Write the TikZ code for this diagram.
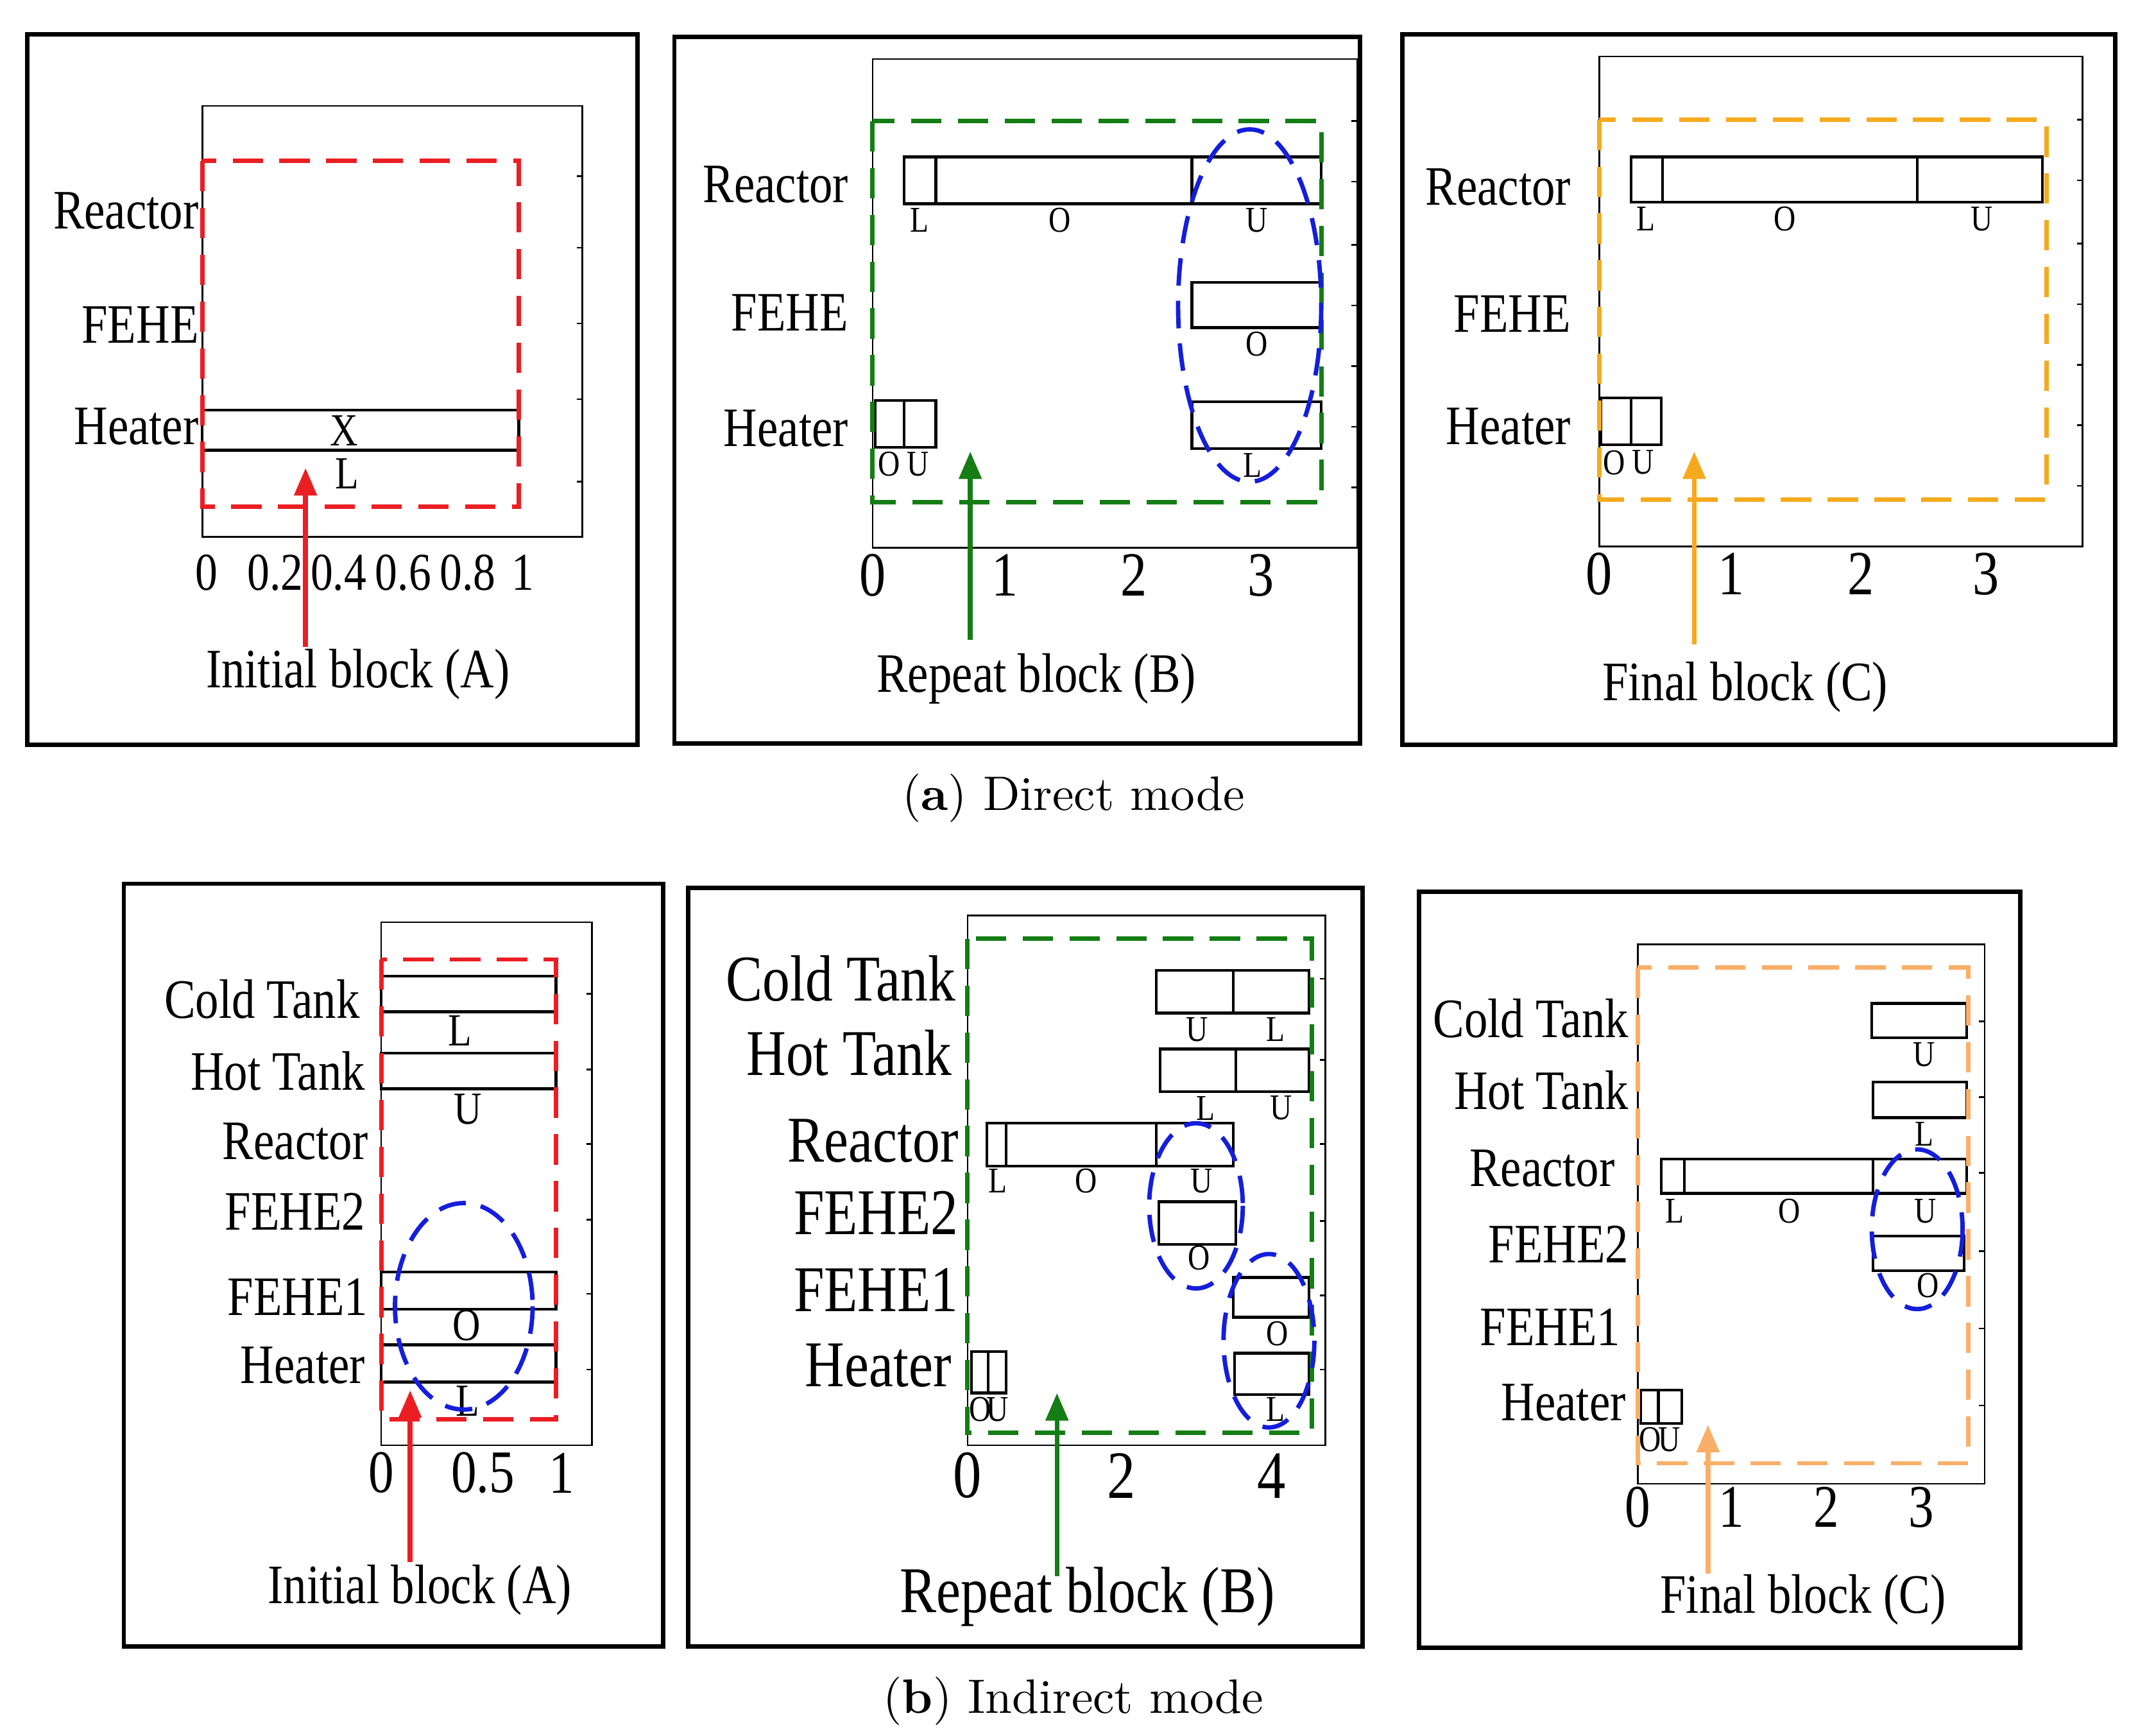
\documentclass[tikz,border=0pt]{standalone}
\usepackage{fontspec}
\newfontfamily\lab{Liberation Serif}[FakeStretch=0.84]
\usetikzlibrary{arrows.meta}
\definecolor{dred}{RGB}{235,30,35}
\definecolor{dgreen}{RGB}{20,125,20}
\definecolor{dorange}{RGB}{245,170,30}
\definecolor{lorange}{RGB}{250,175,105}
\definecolor{dblue}{RGB}{20,30,220}
\tikzset{
 outer/.style={line width=0.32mm},
 axes/.style={line width=0.12mm},
 bar/.style={line width=0.2mm},
 dbox/.style={line width=0.32mm,dash pattern=on 2.2mm off 1.2mm},
 ell/.style={dblue,line width=0.32mm,dash pattern=on 2mm off 1.1mm},
 yl/.style={anchor=east,inner sep=0pt,font=\lab\fontsize{11.5}{12}\selectfont},
 ylb/.style={anchor=east,inner sep=0pt,font=\lab\fontsize{13.5}{14}\selectfont},
 sl/.style={inner sep=0pt,font=\lab\fontsize{7.5}{8}\selectfont},
 tl/.style={inner sep=0pt,font=\lab\fontsize{11}{12}\selectfont},
 tlb/.style={inner sep=0pt,font=\lab\fontsize{13}{14}\selectfont},
 captxt/.style={inner sep=0pt,font=\lab\fontsize{11.5}{12}\selectfont},
 figcap/.style={inner sep=0pt,font=\fontsize{10}{12}\selectfont},
 arr/.style={line width=0.35mm,-{Triangle[length=2mm,width=1.6mm]}},
}
\begin{document}
\begin{tikzpicture}[x=0.1mm,y=-0.1mm]
\useasboundingbox (0,0) rectangle (1560,1261);
% ================= a1
\draw[outer] (20,25) rectangle (463,541);
\draw[axes] (147,77) rectangle (423,390);
\foreach \y in {128,180,235,290,350} \draw[axes] (423,\y) -- ++(-4,0);
\draw[bar] (147,298) rectangle (377,327);
\node[sl,font=\lab\fontsize{9.5}{10}\selectfont] (a1x) at (250,313) {X};
\node[sl,font=\lab\fontsize{9.5}{10}\selectfont] (a1l) at (252,344) {L};
\draw[dbox,dred] (147,117) rectangle (377,368);
\node[yl] (a1r) at (145,153) {Reactor};
\node[yl] (a1f) at (145,236) {FEHE};
\node[yl] (a1h) at (145,310) {Heater};
\foreach \x/\t in {150/0,200/0.2,246/0.4,293/0.6,340/0.8,380/1} \node[tl] at (\x,416) {\t};
\node[captxt] (a1c) at (260,490) {Initial block (A)};
\coordinate (a1s) at (222,470); \coordinate (a1e) at (222,340);
\draw[arr,dred] (a1s) -- (a1e);
% ================= a2
\draw[outer] (490,27) rectangle (988,540);
\draw[axes] (634,43) rectangle (986,398);
\foreach \y in {88,132,178,222,266,310,354} \draw[axes] (986,\y) -- ++(-4,0);
\draw[bar] (657,114) rectangle (960,148); \draw[bar] (680,114)--(680,148) (866,114)--(866,148);
\node[sl] at (668,160) {L}; \node[sl] at (770,160) {O}; \node[sl] at (913,160) {U};
\draw[bar] (866,205) rectangle (960,238); \node[sl] at (913,250) {O};
\draw[bar] (636,291) rectangle (680,325); \draw[bar] (657,291)--(657,325);
\node[sl] at (646,337) {O}; \node[sl] at (667,337) {U};
\draw[bar] (866,292) rectangle (960,326); \node[sl] at (910,338) {L};
\draw[dbox,dgreen] (634,88) rectangle (960,365);
\draw[ell] (908,222) ellipse (52 and 128);
\node[yl] at (617,134) {Reactor};
\node[yl] at (617,227) {FEHE};
\node[yl] at (617,311) {Heater};
\foreach \x/\t in {634/0,730/1,824/2,916/3} \node[tlb] at (\x,418) {\t};
\node[captxt] (a2c) at (753,493) {Repeat block (B)};
\coordinate (a2s) at (705,465); \coordinate (a2e) at (705,328);
\draw[arr,dgreen] (a2s) -- (a2e);
% ================= a3
\draw[outer] (1019,25) rectangle (1537,541);
\draw[axes] (1162,41) rectangle (1513,397);
\foreach \y in {87,131,177,221,265,309,353} \draw[axes] (1513,\y) -- ++(-4,0);
\draw[bar] (1185,114) rectangle (1484,147); \draw[bar] (1208,114)--(1208,147) (1393,114)--(1393,147);
\node[sl] at (1196,159) {L}; \node[sl] at (1297,159) {O}; \node[sl] at (1440,159) {U};
\draw[bar] (1163,289) rectangle (1207,323); \draw[bar] (1185,289)--(1185,323);
\node[sl] at (1173,336) {O}; \node[sl] at (1194,336) {U};
\draw[dbox,dorange] (1162,87) rectangle (1487,363);
\node[yl] at (1142,136) {Reactor};
\node[yl] at (1142,228) {FEHE};
\node[yl] at (1142,310) {Heater};
\foreach \x/\t in {1162/0,1258/1,1352/2,1443/3} \node[tlb] at (\x,417) {\t};
\node[captxt] (a3c) at (1268,499) {Final block (C)};
\coordinate (a3s) at (1231,468); \coordinate (a3e) at (1231,328);
\draw[arr,dorange] (a3s) -- (a3e);
\node[figcap] at (780,580) {(\textbf{a}) Direct mode};
% ================= b1
\draw[outer] (90,642) rectangle (482,1196);
\draw[axes] (277,670) rectangle (430,1050);
\foreach \y in {722,777,831,886,940,995} \draw[axes] (430,\y) -- ++(-4,0);
\draw[bar] (277,709) rectangle (404,735); \node[sl,font=\lab\fontsize{9.5}{10}\selectfont] at (334,749) {L};
\draw[bar] (277,765) rectangle (404,791); \node[sl,font=\lab\fontsize{9.5}{10}\selectfont] at (340,806) {U};
\draw[bar] (277,924) rectangle (404,951); \node[sl,font=\lab\fontsize{9.5}{10}\selectfont] at (339,963) {O};
\draw[bar] (277,977) rectangle (404,1004); \node[sl,font=\lab\fontsize{9.5}{10}\selectfont] at (340,1018) {L};
\draw[dbox,dred] (277,697) rectangle (404,1031);
\draw[ell] (337,949) ellipse (50 and 75);
\node[yl] at (262,726) {Cold Tank};
\node[yl] at (266,778) {Hot Tank};
\node[yl] at (268,829) {Reactor};
\node[yl] at (266,880) {FEHE2};
\node[yl] at (268,942) {FEHE1};
\node[yl] at (266,992) {Heater};
\foreach \x/\t in {277/0,351/0.5,408/1} \node[tlb,font=\lab\fontsize{12.5}{13}\selectfont] at (\x,1070) {\t};
\node[captxt] (b1c) at (305,1155) {Initial block (A)};
\coordinate (b1s) at (298,1135); \coordinate (b1e) at (298,1010);
\draw[arr,dred] (b1s) -- (b1e);
% ================= b2
\draw[outer] (500,645) rectangle (990,1196);
\draw[axes] (703,665) rectangle (963,1050);
\foreach \y in {711,770,831,887,941,995} \draw[axes] (963,\y) -- ++(-4,0);
\draw[bar] (840,705) rectangle (951,736); \draw[bar] (896,705)--(896,736);
\node[sl] at (870,748) {U}; \node[sl] at (927,748) {L};
\draw[bar] (843,762) rectangle (951,793); \draw[bar] (898,762)--(898,793);
\node[sl] at (876,805) {L}; \node[sl] at (931,805) {U};
\draw[bar] (717,816) rectangle (896,847); \draw[bar] (731,816)--(731,847) (840,816)--(840,847);
\node[sl] at (725,858) {L}; \node[sl] at (789,858) {O}; \node[sl] at (873,858) {U};
\draw[bar] (842,873) rectangle (898,904); \node[sl] at (871,914) {O};
\draw[bar] (896,928) rectangle (951,957); \node[sl] at (928,969) {O};
\draw[bar] (706,982) rectangle (731,1012); \draw[bar] (718,982)--(718,1012);
\node[sl] at (712,1024) {O}; \node[sl] at (725,1024) {U};
\draw[bar] (897,983) rectangle (951,1013); \node[sl] at (927,1024) {L};
\draw[dbox,dgreen] (703,682) rectangle (953,1041);
\draw[ell] (869,876) ellipse (34 and 60);
\draw[ell] (922,974) ellipse (33 and 63);
\node[ylb] at (695,711) {Cold Tank};
\node[ylb] at (692,765) {Hot Tank};
\node[ylb] at (697,829) {Reactor};
\node[ylb] at (697,881) {FEHE2};
\node[ylb] at (697,937) {FEHE1};
\node[ylb] at (692,992) {Heater};
\foreach \x/\t in {703/0,815/2,924/4} \node[tlb,font=\lab\fontsize{14}{15}\selectfont] at (\x,1072) {\t};
\node[captxt,font=\lab\fontsize{13.5}{14}\selectfont] (b2c) at (790,1160) {Repeat block (B)};
\coordinate (b2s) at (768,1145); \coordinate (b2e) at (768,1012);
\draw[arr,dgreen] (b2s) -- (b2e);
% ================= b3
\draw[outer] (1031,648) rectangle (1468,1197);
\draw[axes] (1190,686) rectangle (1442,1078);
\foreach \y in {742,797,852,909,965,1021} \draw[axes] (1442,\y) -- ++(-4,0);
\draw[bar] (1360,729) rectangle (1429,754); \node[sl] at (1398,766) {U};
\draw[bar] (1361,786) rectangle (1429,812); \node[sl] at (1398,824) {L};
\draw[bar] (1207,842) rectangle (1429,867); \draw[bar] (1224,842)--(1224,867) (1361,842)--(1361,867);
\node[sl] at (1217,880) {L}; \node[sl] at (1300,880) {O}; \node[sl] at (1399,880) {U};
\draw[bar] (1361,898) rectangle (1427,923); \node[sl] at (1401,934) {O};
\draw[bar] (1192,1010) rectangle (1222,1034); \draw[bar] (1205,1010)--(1205,1034);
\node[sl] at (1199,1046) {O}; \node[sl] at (1213,1046) {U};
\draw[dbox,lorange] (1190,703) rectangle (1430,1063);
\draw[ell] (1393,893) ellipse (33 and 58);
\node[yl] at (1184,740) {Cold Tank};
\node[yl] at (1184,792) {Hot Tank};
\node[yl] at (1174,849) {Reactor};
\node[yl] at (1184,904) {FEHE2};
\node[yl] at (1178,964) {FEHE1};
\node[yl] at (1182,1019) {Heater};
\foreach \x/\t in {1190/0,1258/1,1327/2,1396/3} \node[tlb,font=\lab\fontsize{12.5}{13}\selectfont] at (\x,1095) {\t};
\node[captxt] (b3c) at (1310,1162) {Final block (C)};
\coordinate (b3s) at (1241,1143); \coordinate (b3e) at (1241,1035);
\draw[arr,lorange] (b3s) -- (b3e);
\node[figcap] at (780,1236) {(\textbf{b}) Indirect mode};
\end{tikzpicture}
\end{document}
